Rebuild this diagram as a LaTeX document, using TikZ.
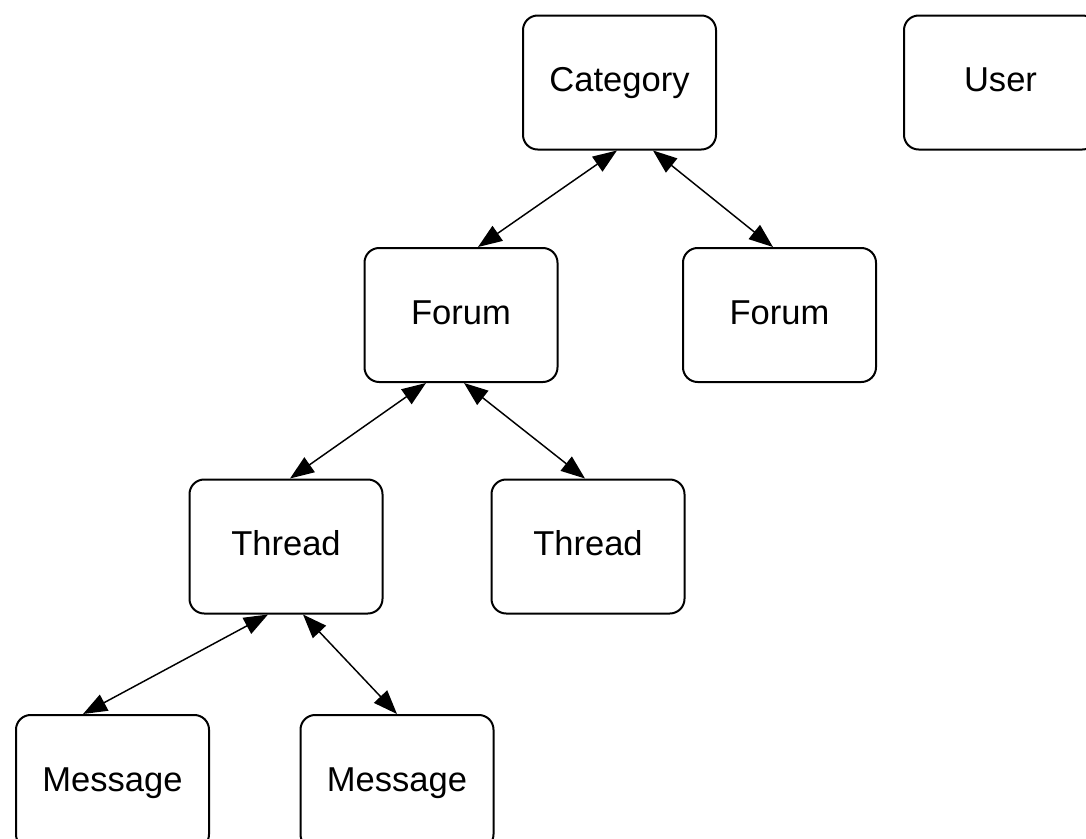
\documentclass[tikz,border=0pt]{standalone}
\usepackage{fontspec}
\setmainfont{Liberation Sans}
\usetikzlibrary{arrows.meta}
\tikzset{
  x=0.75pt, y=-0.75pt,
  entity/.style={draw, line width=1.5pt, rounded corners=11pt, fill=white,
    minimum width=144.75pt, minimum height=100.5pt, inner sep=0pt,
    text height=20pt, text depth=5.8pt,
    font=\fontsize{25.9}{30}\selectfont},
  link/.style={line width=1.1pt,
    {Triangle[length=18pt,width=13.5pt]}-{Triangle[length=18pt,width=13.5pt]}}
}
\begin{document}
\begin{tikzpicture}
\useasboundingbox (0,0) rectangle (1086,839);
\clip (0,0) rectangle (1086,839);
\node[entity] (cat)  at (619.5,82.5) {Category};
\node[entity] (user) at (1000.5,82.5) {User};
\node[entity] (f1)   at (461,315) {Forum};
\node[entity] (f2)   at (779.5,315) {Forum};
\node[entity] (t1)   at (286,546.5) {Thread};
\node[entity] (t2)   at (588,546.5) {Thread};
\node[entity] (m1)   at (112.5,782) {Message};
\node[entity] (m2)   at (397,782) {Message};
\draw[link] ([xshift=-1.9pt]cat.south) -- ([xshift=12.75pt]f1.north);
\draw[link] ([xshift=25.1pt]cat.south) -- ([xshift=-4.9pt]f2.north);
\draw[link] ([xshift=-26.25pt]f1.south) -- ([xshift=3pt]t1.north);
\draw[link] ([xshift=2.25pt]f1.south) -- ([xshift=-2.25pt]t2.north);
\draw[link] ([xshift=-13.5pt]t1.south) -- ([xshift=-22.1pt]m1.north);
\draw[link] ([xshift=12.75pt]t1.south) -- (m2.north);
\end{tikzpicture}
\end{document}
